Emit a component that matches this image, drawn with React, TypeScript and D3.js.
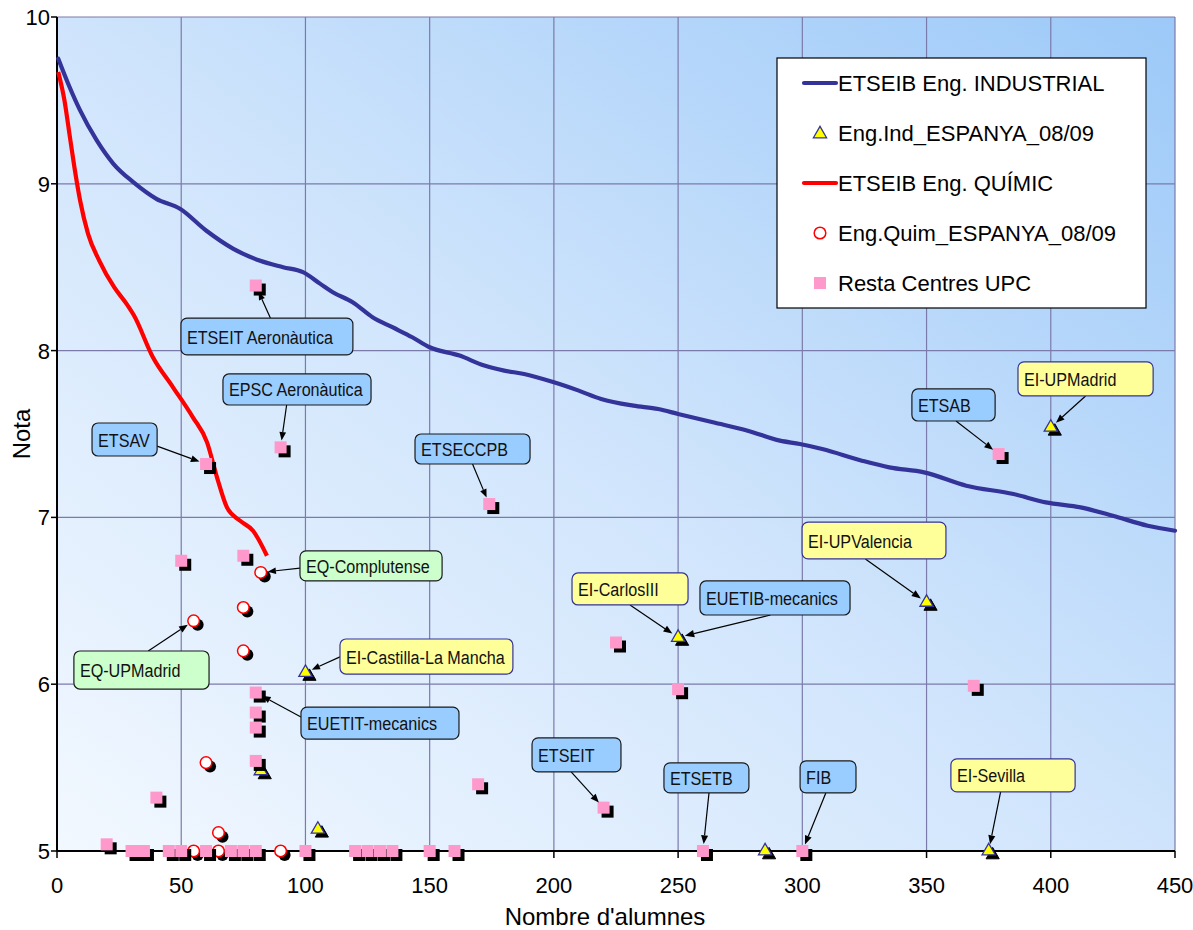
import React from 'react';
import * as d3 from 'd3';

// ---- data ----
const industrialX = [0.5, 4.5, 9.3, 16, 22.7, 30.7, 40, 49.5, 60, 71, 81.5, 91, 99, 106, 111, 119, 127, 135, 143, 150, 162, 172, 180, 188, 200, 210, 219, 232, 242, 250, 264, 278, 291, 299, 308, 324, 335, 349, 366, 385, 398, 412, 425, 439, 450];
const industrialY = [9.75, 9.60, 9.44, 9.26, 9.12, 9.01, 8.91, 8.85, 8.72, 8.61, 8.54, 8.50, 8.47, 8.40, 8.35, 8.29, 8.20, 8.14, 8.08, 8.02, 7.97, 7.91, 7.88, 7.86, 7.81, 7.76, 7.71, 7.67, 7.65, 7.62, 7.57, 7.52, 7.46, 7.44, 7.41, 7.34, 7.30, 7.27, 7.19, 7.14, 7.09, 7.06, 7.01, 6.95, 6.92];

const quimicX = [0.5, 3, 5, 7, 9.3, 12.5, 17, 23, 28, 31, 38.6, 46.7, 54.7, 60.4, 64.4, 68.4, 73.7, 78.9, 84.5];
const quimicY = [9.67, 9.50, 9.30, 9.10, 8.90, 8.70, 8.54, 8.38, 8.28, 8.21, 7.96, 7.78, 7.60, 7.45, 7.24, 7.06, 6.98, 6.92, 6.77];

const indEspX = [100, 82, 105, 250, 285, 350, 400, 375];
const indEspY = [6.07, 5.48, 5.13, 6.28, 5.0, 6.49, 7.54, 5.0];

const quimEspX = [82, 75, 75, 55, 60, 65, 55, 65, 90];
const quimEspY = [6.67, 6.46, 6.20, 6.38, 5.53, 5.11, 5.0, 5.0, 5.0];

const upcX = [80, 90, 60, 50, 75, 174, 379, 225, 250, 369, 80, 80, 80, 80, 40, 169.5, 220, 20,
  30, 32.5, 35, 45, 50, 60, 70, 75, 80, 100, 120, 125, 130, 135, 150, 160, 260, 300];
const upcY = [8.39, 7.42, 7.32, 6.74, 6.77, 7.08, 7.38, 6.25, 5.97, 5.99, 5.95, 5.83, 5.74, 5.54, 5.32, 5.40, 5.26, 5.04,
  5, 5, 5, 5, 5, 5, 5, 5, 5, 5, 5, 5, 5, 5, 5, 5, 5, 5];

const xTicks = [0, 50, 100, 150, 200, 250, 300, 350, 400, 450];
const yTicks = [5, 6, 7, 8, 9, 10];

const legendLabels = ['ETSEIB Eng. INDUSTRIAL', 'Eng.Ind_ESPANYA_08/09', 'ETSEIB Eng. QUÍMIC', 'Eng.Quim_ESPANYA_08/09', 'Resta Centres UPC'];

// callouts: label, pointed value, box in data units [x0, yTop, x1, yBottom], arrow start as fraction of box
const calloutText = ['ETSEIT Aeronàutica', 'EPSC Aeronàutica', 'ETSAV', 'EQ-Complutense', 'EQ-UPMadrid', 'EI-Castilla-La Mancha', 'EUETIT-mecanics', 'ETSEIT', 'ETSETB', 'FIB', 'EI-Sevilla', 'EI-CarlosIII', 'EUETIB-mecanics', 'ETSECCPB', 'ETSAB', 'EI-UPMadrid', 'EI-UPValencia'];
const calloutKind = ['b', 'b', 'b', 'g', 'g', 'y', 'b', 'b', 'b', 'b', 'y', 'y', 'b', 'b', 'b', 'y', 'y'];
const calloutTarget = [[80, 8.39], [90, 7.42], [60, 7.32], [82, 6.67], [55, 6.38], [100, 6.07], [80, 5.95], [220, 5.26], [260, 5], [300, 5], [375, 5], [250, 6.28], [250, 6.28], [174, 7.08], [379, 7.38], [400, 7.54], [350, 6.49]];
const calloutBox = [
  [49.9, 8.195, 119.1, 7.974], [66.8, 7.86, 126.4, 7.674], [14.1, 7.566, 40.3, 7.368], [97.8, 6.799, 155.0, 6.619],
  [6.8, 6.199, 61.2, 5.971], [113.9, 6.271, 183.5, 6.061], [98.2, 5.863, 161.8, 5.671], [191.2, 5.678, 227.0, 5.474],
  [244.3, 5.528, 278.5, 5.348], [299.1, 5.54, 321.6, 5.348], [359.8, 5.552, 409.8, 5.354], [207.3, 6.667, 254.0, 6.475],
  [258.8, 6.619, 319.2, 6.415], [144.1, 7.5, 190.4, 7.32], [344.1, 7.77, 377.6, 7.578], [386.8, 7.932, 441.2, 7.728],
  [299.9, 6.972, 357.8, 6.751]];
const calloutAnchor = [[0.52, 0], [0.43, 1], [1, 0.7], [0, 0.57], [0.55, 0], [0, 0.51], [0, 0.31], [0.44, 1], [0.53, 1], [0.46, 1], [0.4, 1], [0.5, 1], [0.47, 1], [0.5, 1], [0.53, 1], [0.5, 1], [0.44, 1]];

const W = 1193;
const H = 930;
const x = d3.scaleLinear().domain([0, 450]).range([57, 1175]);
const y = d3.scaleLinear().domain([5, 10]).range([851, 17]);

const BLUE = '#333399';
const PINK = '#ff99cc';
const SH = 4;
const FONT = 'Arial, "Liberation Sans", sans-serif';

const boxFill: any = { b: '#99ccff', y: '#ffff99', g: '#ccffcc' };
const boxStroke: any = { b: '#1a1a1a', y: '#333399', g: '#1a1a1a' };

const line = d3.line<number>().curve(d3.curveMonotoneX);
const tri = d3.symbol(d3.symbolTriangle, 75)() as string;

const Square = ({ cx, cy }: any) => (
  <g>
    <rect x={cx - 6 + SH} y={cy - 6 + SH} width={12} height={12} fill="#000" />
    <rect x={cx - 6} y={cy - 6} width={12} height={12} fill={PINK} />
  </g>
);

const Tri = ({ cx, cy }: any) => (
  <g>
    <path d={tri} transform={`translate(${cx + SH},${cy + SH})`} fill="#000" stroke="#000" />
    <path d={tri} transform={`translate(${cx},${cy})`} fill="#ffff00" stroke={BLUE} strokeWidth={1.3} />
  </g>
);

const Circ = ({ cx, cy }: any) => (
  <g>
    <circle cx={cx + SH} cy={cy + SH} r={6} fill="#000" />
    <circle cx={cx} cy={cy} r={5.8} fill="#fff" stroke="#ff0000" strokeWidth={1.5} />
  </g>
);

const App = () => {
  const indPath = line(industrialX.map((v, i) => [x(v), y(industrialY[i])] as any) as any) as string;
  const quimPath = line(quimicX.map((v, i) => [x(v), y(quimicY[i])] as any) as any) as string;

  const callouts = calloutText.map((t, i) => {
    const [bx0, by0, bx1, by1] = calloutBox[i];
    const left = x(bx0), top = y(by0), right = x(bx1), bottom = y(by1);
    const sx = left + (right - left) * calloutAnchor[i][0];
    const sy = top + (bottom - top) * calloutAnchor[i][1];
    const px = x(calloutTarget[i][0]), py = y(calloutTarget[i][1]);
    const dx = sx - px, dy = sy - py;
    const len = Math.sqrt(dx * dx + dy * dy);
    const tx = px + (dx / len) * 7, ty = py + (dy / len) * 7;
    // arrow head
    const ux = (tx - sx) / len, uy = (ty - sy) / len;
    const hl = 10, hw = 4;
    const bxh = tx - ux * hl, byh = ty - uy * hl;
    const head = `M${tx},${ty}L${bxh - uy * hw},${byh + ux * hw}L${bxh + uy * hw},${byh - ux * hw}Z`;
    return (
      <g key={i}>
        <line x1={sx} y1={sy} x2={bxh} y2={byh} stroke="#000" strokeWidth={1.2} />
        <path d={head} fill="#000" />
        <rect x={left} y={top} width={right - left} height={bottom - top} rx={6} ry={6}
          fill={boxFill[calloutKind[i]]} stroke={boxStroke[calloutKind[i]]} strokeWidth={1.2} />
        <text transform={`translate(${left + 6},${(top + bottom) / 2 + 7}) scale(0.85,1)`}
          fontFamily={FONT} fontSize={19} fill="#111">{t}</text>
      </g>
    );
  });

  const legX = 777, legY = 58;
  const rowY = (i: number) => 83 + i * 50;

  return (
    <svg width={W} height={H} style={{ position: 'absolute', left: 0, top: 0, background: '#fff' }}>
      <defs>
        <linearGradient id="bg" x1="0" y1="1" x2="1" y2="0">
          <stop offset="0" stopColor="#f2f8ff" />
          <stop offset="0.5" stopColor="#cfe4fc" />
          <stop offset="1" stopColor="#9cc9f8" />
        </linearGradient>
      </defs>
      <rect x={x(0)} y={y(10)} width={x(450) - x(0)} height={y(5) - y(10)} fill="url(#bg)" />

      {/* grid */}
      {xTicks.slice(1).map(t => (
        <line key={'gx' + t} x1={x(t)} x2={x(t)} y1={y(10)} y2={y(5)} stroke="#7b7bab" strokeWidth={1.2} />
      ))}
      {yTicks.slice(1).map(t => (
        <line key={'gy' + t} x1={x(0)} x2={x(450)} y1={y(t)} y2={y(t)} stroke="#7b7bab" strokeWidth={1.2} />
      ))}

      {/* axes */}
      <line x1={x(0)} x2={x(0)} y1={y(10)} y2={y(5)} stroke="#000" strokeWidth={2} />
      <line x1={x(0)} x2={x(450)} y1={y(5)} y2={y(5)} stroke="#000" strokeWidth={2.2} />
      {yTicks.map(t => (
        <g key={'ty' + t}>
          <line x1={x(0) - 6} x2={x(0)} y1={y(t)} y2={y(t)} stroke="#000" strokeWidth={1.5} />
          <text x={x(0) - 7} y={y(t) + 8} textAnchor="end" fontFamily={FONT} fontSize={22} fill="#000">{t}</text>
        </g>
      ))}
      {xTicks.map(t => (
        <g key={'tx' + t}>
          <line x1={x(t)} x2={x(t)} y1={y(5)} y2={y(5) + 7} stroke="#000" strokeWidth={1.5} />
          <text x={x(t)} y={y(5) + 42} textAnchor="middle" fontFamily={FONT} fontSize={22} fill="#000">{t}</text>
        </g>
      ))}
      <text x={605} y={925} textAnchor="middle" fontFamily={FONT} fontSize={24} fill="#000">Nombre d'alumnes</text>
      <text transform={`translate(30,434) rotate(-90)`} textAnchor="middle" fontFamily={FONT} fontSize={24} fill="#000">Nota</text>

      {/* series */}
      <path d={indPath} fill="none" stroke={BLUE} strokeWidth={4.2} strokeLinejoin="round" strokeLinecap="round" />
      {indEspX.map((v, i) => <Tri key={'t' + i} cx={x(v)} cy={y(indEspY[i])} />)}
      <path d={quimPath} fill="none" stroke="#ff0000" strokeWidth={4.2} strokeLinejoin="round" />
      {quimEspX.map((v, i) => <Circ key={'c' + i} cx={x(v)} cy={y(quimEspY[i])} />)}
      {upcX.map((v, i) => <Square key={'s' + i} cx={x(v)} cy={y(upcY[i])} />)}

      {callouts}

      {/* legend */}
      <rect x={legX} y={legY} width={369} height={250} fill="#fff" stroke="#000" strokeWidth={1.2} />
      <line x1={804} x2={836} y1={rowY(0)} y2={rowY(0)} stroke={BLUE} strokeWidth={4.2} strokeLinecap="round" />
      <path d={tri} transform={`translate(820,${rowY(1) + 1})`} fill="#ffff00" stroke={BLUE} strokeWidth={1.3} />
      <line x1={804} x2={836} y1={rowY(2)} y2={rowY(2)} stroke="#ff0000" strokeWidth={4.2} strokeLinecap="round" />
      <circle cx={820} cy={rowY(3)} r={5.8} fill="#fff" stroke="#ff0000" strokeWidth={1.5} />
      <rect x={814} y={rowY(4) - 6} width={12} height={12} fill={PINK} />
      {legendLabels.map((l, i) => (
        <text key={l} x={838} y={rowY(i) + 8} fontFamily={FONT} fontSize={22} fill="#000">{l}</text>
      ))}
    </svg>
  );
};

export default App;
